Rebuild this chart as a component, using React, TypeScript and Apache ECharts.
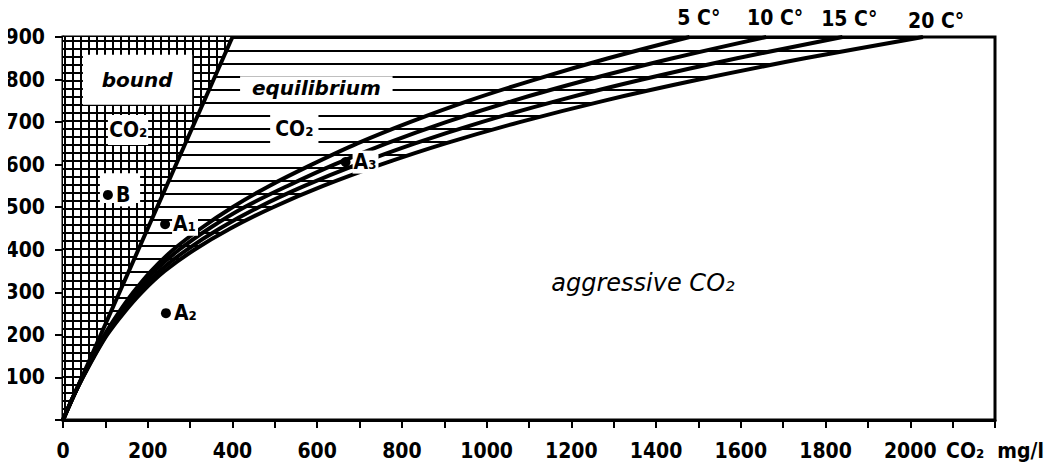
import { useEffect, useRef } from "react";
import * as echarts from "echarts";

// ---- data ----
const Y_LEVELS = [0, 50, 100, 150, 200, 250, 300, 350, 400, 450, 500, 550, 600, 650, 700, 750, 800, 850, 900];
const CURVE_5C = [0, 22, 46, 72, 98, 130, 166, 208, 260, 325, 400, 487, 587, 695, 819, 957, 1114, 1287, 1479];
const CURVE_10C = [0, 22, 46, 72, 100, 134, 172, 216, 274, 345, 428, 530, 640, 764, 904, 1062, 1241, 1439, 1660];
const CURVE_15C = [0, 22, 46, 73, 102, 138, 179, 228, 292, 370, 462, 570, 693, 831, 988, 1166, 1367, 1591, 1840];
const CURVE_20C = [0, 22, 47, 74, 104, 142, 186, 240, 310, 395, 496, 614, 750, 903, 1078, 1276, 1501, 1751, 2030];
const CURVES = [CURVE_5C, CURVE_10C, CURVE_15C, CURVE_20C];
const CURVE_LABELS = ["5 C°", "10 C°", "15 C°", "20 C°"];
const CURVE_LABEL_X = [1501, 1681, 1856, 2061];
const CURVE_LABEL_Y = [945, 945, 942, 937];

const BOUND_X = [0, 400];
const BOUND_Y = [0, 900];

const POINT_NAMES = ["A₁", "A₂", "A₃", "B"];
const POINT_X = [241, 243, 667, 106];
const POINT_Y = [460, 251, 606, 529];

const REGION_TEXT = ["bound", "CO₂", "equilibrium", "CO₂", "aggressive CO₂"];
const REGION_X = [175, 154, 598, 546, 1369];
const REGION_Y = [799, 681, 780, 684, 322];

const X_MAX = 2200;
const Y_MAX = 900;
const X_UNIT_LABEL = "CO₂  mg/l";

// white label boxes, in data units [x1, y1, x2, y2]
const BOXES = [
  [47, 858, 305, 741],
  [106, 717, 201, 646],
  [87, 580, 182, 510],
  [418, 808, 778, 750],
  [489, 719, 603, 648],
];

const NARROW = "'DejaVu Sans Condensed', 'DejaVu Sans', sans-serif";
const REGION_FONT = [
  "italic bold 20px 'DejaVu Sans'",
  `bold 21px ${NARROW}`,
  "italic 600 20px 'DejaVu Sans'",
  `bold 21px ${NARROW}`,
  "italic 24px 'DejaVu Sans'",
];

function makePattern(kind: "grid" | "hlines") {
  const c = document.createElement("canvas");
  if (kind === "grid") {
    c.width = 8;
    c.height = 8;
    const g = c.getContext("2d")!;
    g.fillStyle = "#000";
    g.fillRect(0, 0, 8, 8);
    g.fillStyle = "#fff";
    g.fillRect(2, 2, 6, 6);
  } else {
    c.width = 4;
    c.height = 13;
    const g = c.getContext("2d")!;
    g.fillStyle = "#fff";
    g.fillRect(0, 0, 4, 13);
    g.fillStyle = "#000";
    g.fillRect(0, 11, 4, 2);
  }
  return { image: c.toDataURL(), repeat: "repeat", imageWidth: c.width, imageHeight: c.height };
}

export default function App() {
  const ref = useRef<HTMLDivElement>(null);

  useEffect(() => {
    if (!ref.current) return;
    const chart = echarts.init(ref.current, undefined, { renderer: "svg" });

    const boundPoly = [
      [BOUND_X[0], BOUND_Y[0]],
      [BOUND_X[1], BOUND_Y[1]],
      [0, Y_MAX],
    ];
    const curve20 = Y_LEVELS.map((y, i) => [CURVE_20C[i], y]);
    const eqPoly = [
      [BOUND_X[0], BOUND_Y[0]],
      [BOUND_X[1], BOUND_Y[1]],
      ...curve20.slice().reverse(),
    ];

    const gridPat = makePattern("grid");
    const linePat = makePattern("hlines");

    const polySeries = (pts: number[][], fill: any) => ({
      type: "custom",
      coordinateSystem: "cartesian2d",
      z: 1,
      silent: true,
      data: [[0, 0]],
      renderItem: (_p: any, api: any) => ({
        type: "polygon",
        shape: { points: pts.map((p) => api.coord(p)) },
        style: { fill },
      }),
    });

    const option: any = {
      animation: false,
      backgroundColor: "#fff",
      grid: {
        left: 63,
        right: 68,
        top: 37,
        bottom: 50,
        show: true,
        borderColor: "#000",
        borderWidth: 3,
        backgroundColor: "transparent",
      },
      xAxis: {
        type: "value",
        min: 0,
        max: X_MAX,
        interval: 100,
        axisLine: { show: true, onZero: false, lineStyle: { color: "#000", width: 3 } },
        axisTick: { show: true, length: 8, lineStyle: { color: "#000", width: 2 } },
        splitLine: { show: false },
        axisLabel: {
          margin: 20,
          color: "#000",
          fontFamily: NARROW,
          fontWeight: "bold",
          fontSize: 21,
          showMaxLabel: true,
          formatter: (v: number) => (v === X_MAX ? X_UNIT_LABEL : v % 200 === 0 ? String(v) : ""),
        },
      },
      yAxis: {
        type: "value",
        min: 0,
        max: Y_MAX,
        interval: 100,
        axisLine: { show: true, onZero: false, lineStyle: { color: "#000", width: 3 } },
        axisTick: { show: true, length: 8, lineStyle: { color: "#000", width: 2 } },
        splitLine: { show: false },
        axisLabel: {
          margin: 18,
          color: "#000",
          fontFamily: NARROW,
          fontWeight: "bold",
          fontSize: 21,
          formatter: (v: number) => (v === 0 ? "" : String(v)),
        },
      },
      series: [
        polySeries(eqPoly, linePat),
        polySeries(boundPoly, gridPat),
        {
          type: "custom",
          coordinateSystem: "cartesian2d",
          z: 2,
          silent: true,
          data: BOXES,
          renderItem: (_p: any, api: any) => {
            const a = api.coord([api.value(0), api.value(1)]);
            const b = api.coord([api.value(2), api.value(3)]);
            return {
              type: "rect",
              shape: {
                x: Math.min(a[0], b[0]),
                y: Math.min(a[1], b[1]),
                width: Math.abs(b[0] - a[0]),
                height: Math.abs(b[1] - a[1]),
              },
              style: { fill: "#fff" },
            };
          },
        },
        ...CURVES.map((xs, k) => ({
          type: "line",
          name: CURVE_LABELS[k],
          z: 3,
          smooth: 0.3,
          symbol: "none",
          lineStyle: { color: "#000", width: 4 },
          data: Y_LEVELS.map((y, i) => [xs[i], y]),
        })),
        {
          type: "line",
          z: 3,
          symbol: "none",
          lineStyle: { color: "#000", width: 4 },
          data: BOUND_X.map((x, i) => [x, BOUND_Y[i]]),
        },
        {
          type: "custom",
          coordinateSystem: "cartesian2d",
          z: 4,
          silent: true,
          clip: false,
          data: REGION_X.map((x, i) => [x, REGION_Y[i]]),
          renderItem: (p: any, api: any) => {
            const c = api.coord([api.value(0), api.value(1)]);
            return {
              type: "text",
              x: c[0],
              y: c[1],
              style: {
                text: REGION_TEXT[p.dataIndex],
                font: REGION_FONT[p.dataIndex],
                fill: "#000",
                align: "center",
                verticalAlign: "middle",
              },
            };
          },
        },
        {
          type: "custom",
          coordinateSystem: "cartesian2d",
          z: 4,
          silent: true,
          clip: false,
          data: CURVE_LABEL_X.map((x, i) => [x, CURVE_LABEL_Y[i]]),
          renderItem: (p: any, api: any) => {
            const c = api.coord([api.value(0), api.value(1)]);
            return {
              type: "text",
              x: c[0],
              y: c[1],
              style: {
                text: CURVE_LABELS[p.dataIndex],
                font: `bold 21px ${NARROW}`,
                fill: "#000",
                align: "center",
                verticalAlign: "middle",
              },
            };
          },
        },
        {
          type: "scatter",
          z: 5,
          symbol: "circle",
          symbolSize: 10,
          itemStyle: { color: "#000", opacity: 1 },
          data: POINT_X.map((x, i) => [x, POINT_Y[i]]),
          label: {
            show: true,
            position: "right",
            distance: 2,
            color: "#000",
            fontFamily: NARROW,
            fontWeight: "bold",
            fontSize: 21,
            backgroundColor: "#fff",
            padding: [1, 2, 1, 1],
            formatter: (p: any) => POINT_NAMES[p.dataIndex],
          },
        },
      ],
    };

    chart.setOption(option);
    return () => chart.dispose();
  }, []);

  return <div ref={ref} style={{ width: 1063, height: 470, margin: -8 }} />;
}
